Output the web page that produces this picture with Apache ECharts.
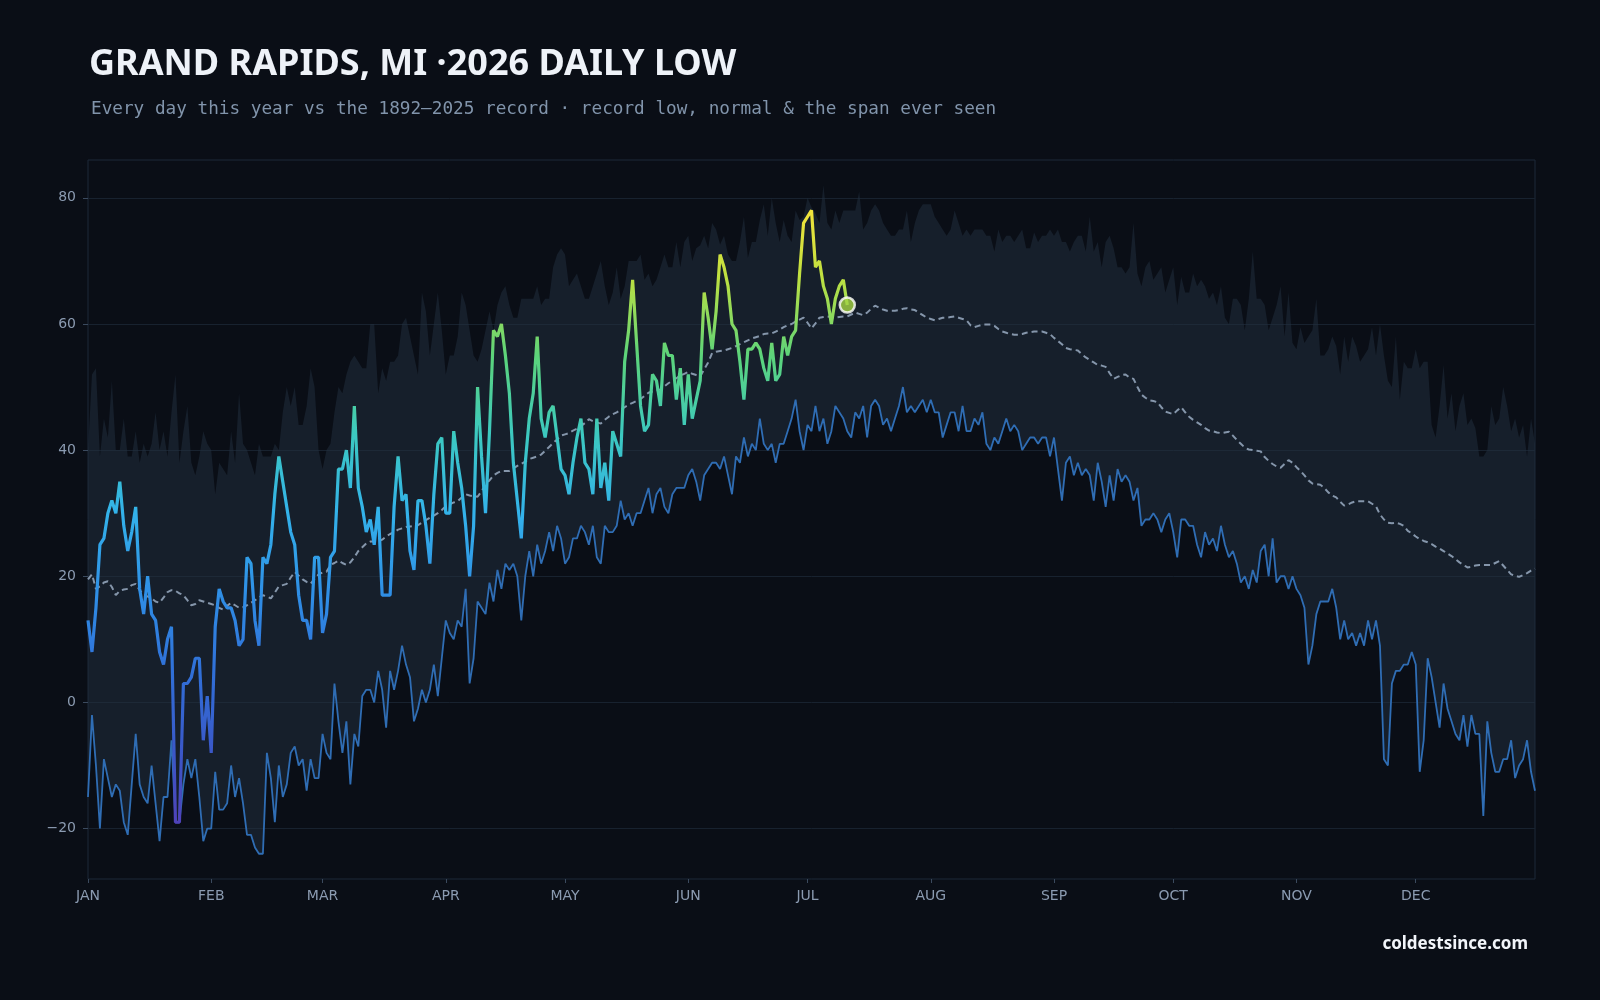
<!DOCTYPE html>
<html>
<head>
<meta charset="utf-8">
<title>Grand Rapids 2026 daily low</title>
<script src="https://cdn.jsdelivr.net/npm/echarts@6.0.0/dist/echarts.min.js"></script>
<style>
  html, body { margin: 0; padding: 0; background: #0a0e16; }
  #chart { width: 1600px; height: 1000px; }
</style>
</head>
<body>
<div id="chart"></div>
<script>
// month names / lengths used for the category axis
const monthNames = ['JAN', 'FEB', 'MAR', 'APR', 'MAY', 'JUN', 'JUL', 'AUG', 'SEP', 'OCT', 'NOV', 'DEC']
const monthDays = [31, 28, 31, 30, 31, 30, 31, 31, 30, 31, 30, 31]

// highest daily low ever seen (top edge of the span), 1892-2025
const spanHigh = [
  40, 52, 53, 39, 45, 42, 51, 40, 40, 45,
  39, 39, 43, 38, 41, 39, 41, 46, 40, 43,
  39, 46, 52, 38, 43, 47, 38, 36, 39, 43,
  41, 40, 33, 38, 37, 36, 43, 38, 49, 41,
  40, 38, 36, 41, 39, 39, 39, 41, 40, 46,
  50, 47, 50, 44, 44, 47, 53, 50, 40, 37,
  40, 41, 46, 50, 49, 52, 54, 55, 54, 53,
  53, 60, 60, 49, 53, 51, 54, 54, 55, 60,
  61, 58, 55, 52, 65, 62, 55, 60, 65, 59,
  52, 55, 55, 58, 65, 63, 59, 55, 54, 56,
  59, 62, 59, 63, 65, 66, 63, 61, 61, 64,
  64, 64, 64, 66, 63, 64, 64, 69, 71, 72,
  71, 66, 67, 68, 66, 64, 64, 66, 68, 70,
  66, 63, 65, 69, 64, 66, 70, 70, 70, 71,
  67, 68, 66, 67, 69, 71, 69, 69, 73, 69,
  73, 74, 70, 72, 72.5, 74, 72, 76, 75, 72.6,
  74, 71, 70, 70, 73, 77, 70.5, 73, 73, 76.5,
  79, 74, 80, 76, 73, 76.5, 74, 73, 78, 76.5,
  77, 80, 78.5, 77.5, 76, 82, 76, 75, 78, 76,
  78, 78, 78, 78, 81, 75, 76, 78, 79, 78,
  76, 75, 74, 74, 75, 75, 78, 73, 76, 78,
  79, 79, 79, 77, 76, 75, 74, 75, 78, 76,
  74, 75, 74, 75, 75, 75, 74, 74, 71.5, 75,
  73, 74, 74, 73, 74, 75, 72, 72, 74.5, 73,
  74, 74, 75, 74, 75, 73, 73, 71.5, 73, 74,
  74, 71.5, 77, 71.5, 73, 69, 73, 74, 72, 69,
  69, 68, 69, 76, 68, 66, 69, 70, 67, 68,
  69, 65, 67, 69, 63, 67.5, 65, 65, 68, 66,
  67, 66, 64, 65, 63, 66, 61, 60, 64, 64,
  63, 59, 64, 71.5, 64, 64, 63, 59, 61, 63,
  66, 58, 65, 57, 56, 59.5, 57, 58, 59, 64,
  55, 55, 56, 58, 56.5, 52, 58, 54, 58, 56.5,
  54, 55, 56, 59.5, 55, 60, 55, 51, 50, 58,
  48, 54, 53, 53, 56, 53, 54, 54, 44, 42,
  47, 53.5, 45, 49, 43, 47, 49, 44, 45, 43.5,
  39, 39, 40, 47, 44, 45, 50, 47, 43, 45,
  42, 44, 39, 45, 41
]

// record low for each day
const recordLow = [
  -15, -2, -10, -20, -9, -12, -15, -13, -14, -19,
  -21, -13, -5, -13, -15, -16, -10, -16, -22, -15,
  -15, -6, -19, -19, -13, -9, -12, -9, -15, -22,
  -20, -20, -11, -17, -17, -16, -10, -15, -12, -16,
  -21, -21, -23, -24, -24, -8, -12, -19, -10, -15,
  -13, -8, -7, -10, -9, -14, -9, -12, -12, -5,
  -8, -9, 3, -3, -8, -3, -13, -5, -7, 1,
  2, 2, 0, 5, 2, -4, 5, 2, 5, 9,
  6, 4, -3, -1, 2, 0, 2, 6, 1, 7,
  13, 11, 10, 13, 12, 18, 3, 7, 16, 15,
  14, 19, 16, 21, 18, 22, 21, 22, 20, 13,
  20, 24, 20, 25, 22, 24, 27, 24, 28, 26,
  22, 23, 26, 26, 28, 27, 25, 28, 23, 22,
  28, 27, 27, 28, 32, 29, 30, 28, 30, 30,
  32, 34, 30, 33, 34, 31, 30, 33, 34, 34,
  34, 36, 37, 35, 32, 36, 37, 38, 38, 37,
  39, 36, 33, 39, 38, 42, 39, 41, 40, 45,
  41, 40, 41, 38, 41, 41, 43, 45, 48, 43,
  40, 44, 43, 47, 43, 45, 41, 43, 47, 46,
  45, 43, 42, 46, 45, 47, 42, 47, 48, 47,
  44, 45, 43, 45, 47, 50, 46, 47, 46, 47,
  48, 46, 48, 46, 46, 42, 44, 46, 46, 43,
  47, 43, 43, 45, 44, 46, 41, 40, 42, 41,
  43, 45, 43, 44, 43, 40, 41, 42, 42, 41,
  42, 42, 39, 42, 37, 32, 38, 39, 36, 38,
  36, 37, 36, 32, 38, 35, 31, 36, 32, 37,
  35, 36, 35, 32, 34, 28, 29, 29, 30, 29,
  27, 29, 30, 27, 23, 29, 29, 28, 28, 25,
  23, 27, 25, 26, 24, 28, 25, 23, 24, 22,
  19, 20, 18, 21, 19, 24, 25, 20, 26, 19,
  20, 20, 18, 20, 18, 17, 15, 6, 9, 14,
  16, 16, 16, 18, 15, 10, 13, 10, 11, 9,
  11, 9, 13, 10, 13, 9, -9, -10, 3, 5,
  5, 6, 6, 8, 6, -11, -6, 7, 4, 0,
  -4, 3, -1, -3, -5, -6, -2, -7, -2, -5,
  -5, -18, -3, -8, -11, -11, -9, -9, -6, -12,
  -10, -9, -6, -11, -14
]

// normal daily low
const normalLow = [
  19.5, 20.3, 18.0, 18.4, 19.0, 19.2, 18.3, 17.0, 17.7, 17.9,
  18.0, 18.6, 18.8, 17.8, 17.0, 16.8, 16.5, 16.0, 15.8, 16.6,
  17.5, 17.8, 17.7, 17.3, 17.0, 16.2, 15.4, 15.6, 16.2, 16.0,
  15.8, 15.6, 15.4, 15.0, 14.7, 15.3, 15.8, 15.4, 15.0, 15.1,
  15.4, 15.8, 16.2, 16.6, 17.0, 16.8, 16.5, 17.4, 18.4, 18.6,
  18.8, 19.8, 20.7, 20.1, 19.5, 19.1, 18.8, 19.6, 20.3, 20.6,
  20.7, 21.8, 22.1, 22.5, 22.1, 21.8, 22.2, 23.0, 24.0, 24.6,
  25.2, 25.5, 25.5, 25.5, 25.8, 26.3, 26.7, 27.0, 27.4, 27.6,
  27.8, 27.9, 28.0, 28.1, 28.5, 28.9, 29.3, 29.6, 30.0, 30.5,
  31.1, 31.4, 31.7, 31.9, 32.5, 33.0, 32.8, 32.7, 32.6, 33.5,
  34.5, 35.2, 36.0, 36.4, 36.7, 36.7, 36.7, 37.1, 37.5, 37.8,
  38.2, 38.6, 38.8, 39.0, 39.3, 39.9, 40.5, 41.1, 41.7, 42.3,
  42.5, 42.7, 43.1, 43.4, 43.8, 44.3, 44.9, 44.6, 44.4, 44.2,
  44.8, 45.3, 45.7, 46.0, 46.4, 46.8, 47.2, 47.5, 47.8, 48.1,
  48.6, 49.1, 49.3, 49.5, 49.6, 50.1, 50.6, 51.0, 51.4, 51.8,
  52.1, 52.4, 52.1, 51.9, 51.7, 52.8, 53.9, 55.4, 55.6, 55.7,
  55.8, 56.0, 56.2, 56.5, 56.8, 57.1, 57.4, 57.7, 57.9, 58.1,
  58.4, 58.5, 58.5, 58.8, 59.1, 59.5, 59.8, 60.0, 60.4, 60.7,
  61.0, 60.2, 59.3, 60.1, 61.0, 61.1, 61.2, 61.1, 61.0, 61.1,
  61.2, 61.2, 61.5, 61.8, 61.6, 61.4, 61.8, 62.4, 62.9, 62.6,
  62.3, 62.1, 62.1, 62.1, 62.2, 62.4, 62.5, 62.3, 62.2, 61.8,
  61.4, 61.0, 60.8, 60.6, 60.8, 61.0, 61.0, 61.1, 61.2, 61.0,
  60.8, 60.6, 59.8, 59.5, 59.7, 59.9, 59.9, 59.9, 59.7, 59.2,
  58.8, 58.6, 58.4, 58.3, 58.3, 58.4, 58.6, 58.7, 58.8, 58.8,
  58.8, 58.6, 58.4, 57.8, 57.3, 56.8, 56.2, 56.0, 55.9, 55.8,
  55.2, 54.7, 54.3, 53.9, 53.5, 53.4, 53.2, 52.2, 51.3, 51.6,
  51.9, 52.0, 51.5, 51.3, 50.0, 48.8, 48.3, 47.9, 47.8, 47.6,
  46.8, 46.1, 45.9, 45.7, 46.3, 46.8, 46.0, 45.3, 44.8, 44.4,
  44.0, 43.5, 43.1, 43.0, 42.8, 42.7, 42.8, 42.9, 42.3, 41.6,
  41.0, 40.4, 40.1, 40.0, 39.9, 39.8, 38.9, 38.3, 37.8, 37.4,
  37.2, 37.8, 38.4, 38.0, 37.3, 36.7, 36.0, 35.2, 34.7, 34.6,
  34.5, 34.0, 33.3, 32.8, 32.5, 31.8, 31.2, 31.4, 31.7, 31.9,
  31.9, 31.9, 31.9, 31.5, 31.1, 29.8, 29.0, 28.5, 28.4, 28.5,
  28.3, 28.0, 27.2, 26.8, 26.3, 25.9, 25.6, 25.4, 25.1, 24.7,
  24.4, 24.0, 23.6, 23.2, 22.7, 22.2, 21.8, 21.4, 21.5, 21.7,
  21.8, 21.8, 21.8, 21.8, 22.1, 22.4, 21.7, 21.0, 20.3, 20.1,
  19.9, 20.2, 20.5, 20.9, 21.2
]

// 2026 daily lows so far (Jan 1 - Jul 11)
const low2026 = [
  13, 8, 15, 25, 26, 30, 32, 30, 35, 28,
  24, 27, 31, 18, 14, 20, 14, 13, 8, 6,
  10, 12, -19, -19, 3, 3, 4, 7, 7, -6,
  1, -8, 12, 18, 16, 15, 15, 13, 9, 10,
  23, 22, 13, 9, 23, 22, 25, 33, 39, 35,
  31, 27, 25, 17, 13, 13, 10, 23, 23, 11,
  14, 23, 24, 37, 37, 40, 34, 47, 34, 31,
  27, 29, 25, 31, 17, 17, 17, 31, 39, 32,
  33, 24, 21, 32, 32, 28, 22, 33, 41, 42,
  30, 30, 43, 38, 34, 28, 20, 28, 50, 39,
  30, 43, 59, 58, 60, 55, 49, 38, 32, 26,
  38, 45, 49, 58, 45, 42, 46, 47, 42, 37,
  36, 33, 38, 42, 45, 38, 37, 33, 45, 34,
  38, 32, 43, 41, 39, 54, 59, 67, 57, 47,
  43, 44, 52, 51, 47, 57, 55, 55, 48, 53,
  44, 52, 45, 48, 51, 65, 61, 56, 62, 71,
  69, 66, 60, 59, 54, 48, 56, 56, 57, 56,
  53, 51, 57, 51, 52, 58, 55, 58, 59, 68,
  76, 77, 78, 69, 70, 66, 64, 60, 64, 66,
  67, 63
]

const yTicks = [-20, 0, 20, 40, 60, 80]

// build the day categories and the band thickness for stacking
const dayLabels = []
const monthStart = {}
monthDays.forEach((n, m) => {
  monthStart[dayLabels.length] = monthNames[m]
  for (let d = 1; d <= n; d++) dayLabels.push(monthNames[m] + ' ' + d)
})
const spanThickness = spanHigh.map((v, i) => v - recordLow[i])
const lastIdx = low2026.length - 1

const chart = echarts.init(document.getElementById('chart'))

const isMonthStart = (idx) => monthStart[idx] !== undefined

const option = {
  backgroundColor: '#0a0e16',
  animation: false,
  title: [
    {
      text: 'GRAND RAPIDS, MI ·2026 DAILY LOW',
      left: 84,
      top: 42,
      textStyle: { color: '#eef2f8', fontSize: 36, fontWeight: 'bold', fontFamily: 'Noto Sans' }
    },
    {
      text: 'Every day this year vs the 1892–2025 record · record low, normal & the span ever seen',
      left: 86,
      top: 95,
      textStyle: { color: '#8194ab', fontSize: 17.7, fontWeight: 'normal', fontFamily: 'DejaVu Sans Mono' }
    }
  ],
  graphic: [
    {
      type: 'text',
      right: 72,
      top: 936,
      style: { text: 'coldestsince.com', fill: '#f2f5fa', font: 'bold 17px "Noto Sans"' }
    }
  ],
  grid: { left: 88, right: 65, top: 160, bottom: 121, show: true, borderColor: '#1d2939', borderWidth: 1 },
  visualMap: {
    show: false,
    type: 'continuous',
    seriesIndex: 3,
    dimension: 1,
    min: -20,
    max: 80,
    inRange: {
      color: ['#5140b8', '#3a58c8', '#3070d8', '#2f8fe6', '#33b2ea', '#3cc9c0', '#5cd47a', '#bfe040', '#fbe33a']
    }
  },
  xAxis: {
    type: 'category',
    data: dayLabels,
    boundaryGap: false,
    axisLine: { show: false, onZero: false },
    axisTick: { show: true, interval: (i) => isMonthStart(i), length: 4, lineStyle: { color: '#3b4a5e' } },
    axisLabel: {
      interval: (i) => isMonthStart(i),
      formatter: (v, i) => monthStart[i] || '',
      color: '#8b9bb1',
      fontSize: 14,
      fontFamily: 'DejaVu Sans',
      margin: 10
    },
    splitLine: { show: false }
  },
  yAxis: {
    type: 'value',
    min: -28,
    max: 86,
    axisLine: { show: false },
    axisTick: { show: true, length: 5, lineStyle: { color: '#3b4a5e' }, customValues: yTicks },
    axisLabel: {
      customValues: yTicks,
      color: '#8b9bb1',
      fontSize: 14,
      fontFamily: 'DejaVu Sans',
      margin: 12,
      formatter: (v) => String(v).replace('-', '\u2212')
    },
    splitLine: { show: true, lineStyle: { color: '#18222f', width: 1 } }
  },
  series: [
    {
      name: 'base',
      type: 'line',
      data: recordLow,
      stack: 'span',
      stackStrategy: 'all',
      symbol: 'none',
      lineStyle: { opacity: 0 },
      silent: true,
      z: 1
    },
    {
      name: 'span ever seen',
      type: 'line',
      data: spanThickness,
      stack: 'span',
      stackStrategy: 'all',
      symbol: 'none',
      lineStyle: { opacity: 0 },
      areaStyle: { color: 'rgba(34,48,64,0.5)', opacity: 1 },
      silent: true,
      z: 1
    },
    {
      name: 'record low',
      type: 'line',
      data: recordLow,
      symbol: 'none',
      lineStyle: { color: '#2f6db4', width: 1.8 },
      z: 3
    },
    {
      name: '2026',
      type: 'line',
      data: low2026,
      symbol: 'none',
      lineStyle: { width: 3.2 },
      z: 5
    },
    {
      name: 'normal',
      type: 'line',
      data: normalLow,
      symbol: 'none',
      lineStyle: { color: '#8596ab', width: 2, type: [6, 4] },
      z: 4
    },
    {
      name: 'latest',
      type: 'scatter',
      data: [[lastIdx, low2026[lastIdx]]],
      symbolSize: 15,
      itemStyle: { color: '#a5d544', borderColor: '#ffffff', borderWidth: 2.5 },
      z: 6
    }
  ]
}

chart.setOption(option)
</script>
</body>
</html>
